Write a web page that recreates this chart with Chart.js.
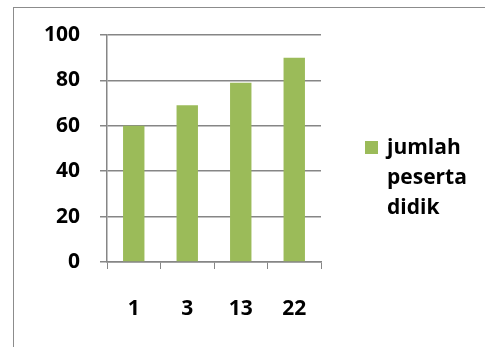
<!DOCTYPE html>
<html>
<head>
<meta charset="utf-8">
<script src="https://cdn.jsdelivr.net/npm/chart.js@4/dist/chart.umd.min.js"></script>
<style>
  body { margin:0; background:#fff; overflow:hidden; }
  #frame { position:absolute; left:13px; top:7px; width:520px; height:400px; border:1.5px solid #8c8c8c; }
  #wrap { position:absolute; left:0; top:0; width:485px; height:347px; }
  #legend { position:absolute; left:365px; top:139px; font:700 21px "Open Sans", sans-serif; color:#000; line-height:30px; }
  #legend .box { position:absolute; left:0; top:2px; width:13px; height:13px; }
  #legend .txt { margin-left:22px; margin-top:-8px; }
</style>
</head>
<body>
<div id="frame"></div>
<div id="wrap"><canvas id="myChart" width="485" height="347"></canvas></div>
<div id="legend"></div>
<script>
var labels = ["1", "3", "13", "22"];
var peserta = [60, 69, 79, 90];
var seriesName = "jumlah peserta didik";
var barColor = "#9bbb59";
var gridColor = "#868686";

Chart.defaults.font.family = "'Open Sans', sans-serif";
Chart.defaults.font.size = 21;
Chart.defaults.font.weight = "bold";
Chart.defaults.color = "#000";

var ctx = document.getElementById('myChart').getContext('2d');
var barChart = new Chart(ctx, {
	type: 'bar',
	data: {
		labels: labels,
		datasets: [{
			label: seriesName,
			data: peserta,
			backgroundColor: barColor,
			categoryPercentage: 0.8,
			barPercentage: 0.5
		}]
	},
	options: {
		responsive: false,
		animation: false,
		layout: { padding: { top: 35, right: 164, left: 0, bottom: 0 } },
		plugins: { legend: { display: false }, tooltip: { enabled: false } },
		scales: {
			x: {
				grid: { drawOnChartArea: false, drawTicks: true, tickLength: 7, color: gridColor, offset: true },
				border: { color: gridColor, width: 1.5 },
				ticks: { padding: 27 },
				afterFit: function(scale) { scale.height = 85; }
			},
			y: {
				min: 0, max: 100,
				ticks: { stepSize: 20, padding: 20 },
				grid: { color: gridColor, lineWidth: 1.5, tickLength: 7 },
				border: { color: gridColor, width: 1.5 },
				afterFit: function(scale) { scale.width = 107; }
			}
		}
	}
});

// legend built from the dataset, one word per line
var leg = document.getElementById('legend');
leg.innerHTML = '<div class="box" style="background:' + barColor + '"></div>' +
	'<div class="txt">' + seriesName.split(' ').join('<br>') + '</div>';
</script>
</body>
</html>
